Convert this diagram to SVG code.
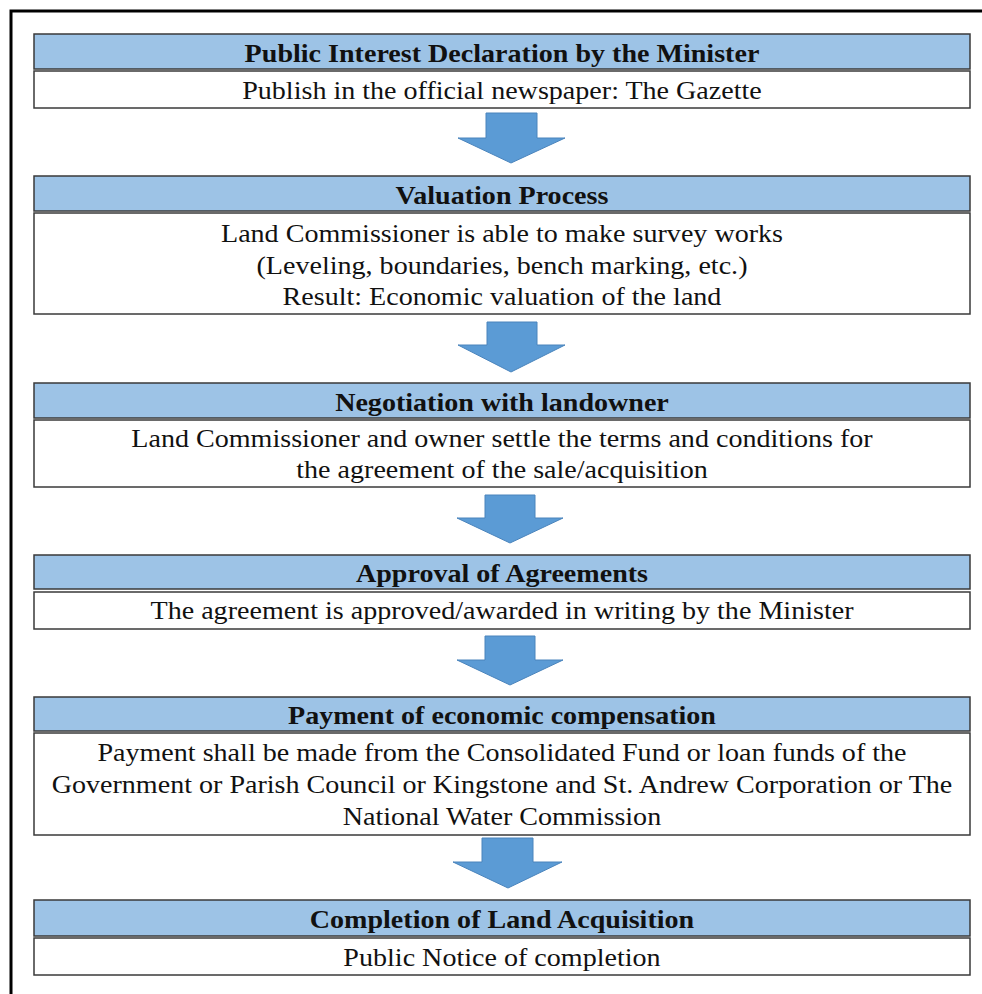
<svg xmlns="http://www.w3.org/2000/svg" width="982" height="994" viewBox="0 0 982 994">
  <defs>
    <style>
      .frame { fill: none; stroke: #000; stroke-width: 3; }
      .head { fill: #9DC3E6; stroke: #3a3a3a; stroke-width: 1.5; }
      .body { fill: #fff; stroke: #3a3a3a; stroke-width: 1.5; }
      .arrow { fill: #5B9BD5; stroke: #4A84BC; stroke-width: 1; }
      text { font-family: "Liberation Serif", "Times New Roman", serif; fill: #111; text-anchor: middle; }
      .ht { font-size: 26px; font-weight: bold; }
      .bt { font-size: 26px; }
    </style>
  </defs>
  <rect width="982" height="994" fill="#fff"/>
  <!-- outer frame, right and bottom edges run off the page -->
  <rect class="frame" x="11" y="11" width="1000" height="1000"/>

  <g id="step1">
    <rect class="head" x="34" y="34" width="936" height="35"/>
    <rect class="body" x="34" y="71" width="936" height="37"/>
    <g transform="matrix(1.08,0,0,1,-40.16,0)">
      <text class="ht" x="502" y="62">Public Interest Declaration by the Minister</text>
      <text class="bt" x="502" y="99">Publish in the official newspaper: The Gazette</text>
    </g>
  </g>

  <g id="step2">
    <rect class="head" x="34" y="176" width="936" height="35"/>
    <rect class="body" x="34" y="213" width="936" height="101"/>
    <g transform="matrix(1.08,0,0,1,-40.16,0)">
      <text class="ht" x="502" y="204">Valuation Process</text>
      <text class="bt" x="502" y="242">Land Commissioner is able to make survey works</text>
      <text class="bt" x="502" y="274">(Leveling, boundaries, bench marking, etc.)</text>
      <text class="bt" x="502" y="305">Result: Economic valuation of the land</text>
    </g>
  </g>

  <g id="step3">
    <rect class="head" x="34" y="383" width="936" height="35"/>
    <rect class="body" x="34" y="420" width="936" height="67"/>
    <g transform="matrix(1.08,0,0,1,-40.16,0)">
      <text class="ht" x="502" y="411">Negotiation with landowner</text>
      <text class="bt" x="502" y="447">Land Commissioner and owner settle the terms and conditions for</text>
      <text class="bt" x="502" y="478">the agreement of the sale/acquisition</text>
    </g>
  </g>

  <g id="step4">
    <rect class="head" x="34" y="555" width="936" height="34"/>
    <rect class="body" x="34" y="592" width="936" height="37"/>
    <g transform="matrix(1.08,0,0,1,-40.16,0)">
      <text class="ht" x="502" y="582">Approval of Agreements</text>
      <text class="bt" x="502" y="619">The agreement is approved/awarded in writing by the Minister</text>
    </g>
  </g>

  <g id="step5">
    <rect class="head" x="34" y="697" width="936" height="34"/>
    <rect class="body" x="34" y="733" width="936" height="102"/>
    <g transform="matrix(1.08,0,0,1,-40.16,0)">
      <text class="ht" x="502" y="724">Payment of economic compensation</text>
      <text class="bt" x="502" y="761">Payment shall be made from the Consolidated Fund or loan funds of the</text>
      <text class="bt" x="502" y="793">Government or Parish Council or Kingstone and St. Andrew Corporation or The</text>
      <text class="bt" x="502" y="825">National Water Commission</text>
    </g>
  </g>

  <g id="step6">
    <rect class="head" x="34" y="900" width="936" height="36"/>
    <rect class="body" x="34" y="938" width="936" height="37"/>
    <g transform="matrix(1.08,0,0,1,-40.16,0)">
      <text class="ht" x="502" y="928">Completion of Land Acquisition</text>
      <text class="bt" x="502" y="966">Public Notice of completion</text>
    </g>
  </g>

  <g id="connectors">
    <polygon class="arrow" points="486,113 537,113 537,138 565,138 511,163 458,138 486,138"/>
    <polygon class="arrow" points="487,322 537,322 537,345 565,345 511,372 458,345 487,345"/>
    <polygon class="arrow" points="485,495 535,495 535,518 563,518 510,543 457,518 485,518"/>
    <polygon class="arrow" points="485,636 535,636 535,660 563,660 510,685 457,660 485,660"/>
    <polygon class="arrow" points="482,838 533,838 533,862 562,862 508,888 453,862 482,862"/>
  </g>
</svg>
